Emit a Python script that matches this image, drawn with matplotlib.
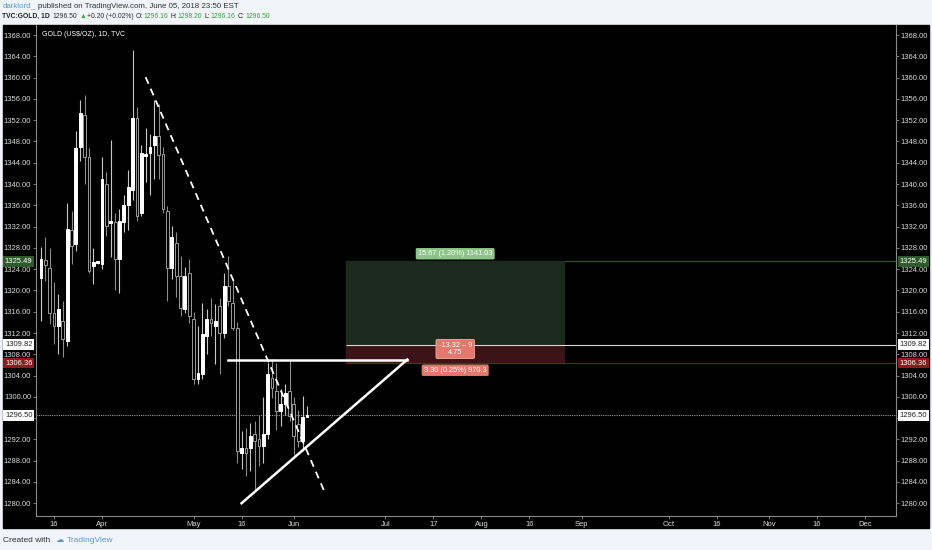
import matplotlib
matplotlib.use("Agg")
import matplotlib.pyplot as plt
import matplotlib.transforms as mtransforms
from matplotlib.patches import Rectangle
import numpy as np

plt.rcParams["font.family"] = ["Liberation Sans", "DejaVu Sans"]

# daily candles, first bar = 2018-03-13 (weekday bars)
start = "2018-03-13"
opens = [1322.4, 1325.8, 1324.3, 1315.8, 1313.4, 1314.3, 1310.5, 1331.3, 1328.8, 1346.9,
         1352.9, 1345.0, 1324.6, 1325.2, 1325.0, 1340.1, 1332.6, 1332.8, 1326.0, 1332.8,
         1336.0, 1338.8, 1352.5, 1334.5, 1345.2, 1345.8, 1347.3, 1349.0, 1345.6, 1335.0,
         1324.3, 1329.0, 1322.8, 1316.5, 1323.2, 1314.7, 1303.4, 1304.3, 1311.5, 1314.7,
         1313.4, 1317.1, 1312.0, 1320.9, 1317.7, 1313.0, 1289.4, 1290.4, 1290.4, 1293.0,
         1292.0, 1290.7, 1293.0, 1303.6, 1301.1, 1297.3, 1298.7, 1301.1, 1298.7, 1294.9,
         1291.7, 1296.16]
highs = [1328.1, 1330.0, 1327.9, 1321.5, 1319.4, 1318.0, 1336.5, 1335.0, 1350.0, 1355.8,
         1356.7, 1346.7, 1328.0, 1325.6, 1345.0, 1342.2, 1348.2, 1334.6, 1335.4, 1338.0,
         1342.6, 1365.2, 1354.5, 1347.3, 1350.5, 1349.5, 1355.8, 1355.0, 1347.0, 1335.9,
         1332.2, 1331.0, 1326.5, 1324.5, 1326.0, 1316.0, 1313.4, 1317.7, 1316.6, 1318.6,
         1317.5, 1318.6, 1323.2, 1326.5, 1322.2, 1314.0, 1293.6, 1294.1, 1295.0, 1295.5,
         1296.5, 1300.0, 1306.4, 1307.1, 1306.3, 1301.5, 1302.5, 1306.8, 1300.0, 1297.5,
         1300.2, 1298.20]
lows = [1314.3, 1321.8, 1313.7, 1310.0, 1308.1, 1307.5, 1309.6, 1325.0, 1327.5, 1344.4,
        1340.1, 1323.3, 1321.2, 1324.9, 1324.0, 1330.3, 1326.2, 1320.0, 1319.6, 1331.0,
        1331.3, 1337.0, 1333.0, 1334.0, 1340.3, 1337.9, 1341.0, 1341.0, 1334.5, 1318.0,
        1322.2, 1318.7, 1315.2, 1315.8, 1313.9, 1302.4, 1302.4, 1303.4, 1308.1, 1311.5,
        1306.2, 1304.3, 1311.0, 1317.0, 1312.5, 1287.5, 1286.4, 1285.1, 1286.0, 1282.5,
        1287.0, 1287.5, 1292.0, 1299.8, 1293.7, 1294.5, 1296.5, 1295.5, 1289.0, 1290.5,
        1289.8, 1296.16]
closes = [1326.0, 1324.7, 1315.8, 1313.4, 1316.5, 1310.9, 1331.6, 1328.4, 1346.7, 1353.3,
          1345.0, 1323.7, 1325.4, 1325.3, 1341.0, 1332.2, 1333.0, 1326.0, 1333.1, 1336.0,
          1339.4, 1352.5, 1334.0, 1345.8, 1345.6, 1346.9, 1349.0, 1345.4, 1335.4, 1324.3,
          1330.0, 1322.8, 1316.7, 1322.8, 1315.2, 1303.4, 1304.5, 1311.8, 1314.7, 1313.9,
          1314.3, 1312.0, 1320.9, 1318.0, 1313.0, 1289.8, 1290.4, 1289.5, 1292.6, 1291.7,
          1290.7, 1293.0, 1304.3, 1301.7, 1297.3, 1298.7, 1300.7, 1296.4, 1292.6, 1291.7,
          1296.3, 1296.50]

tick_dates = ["2018-03-16", "2018-04-02", "2018-05-01", "2018-05-16", "2018-06-01",
              "2018-07-02", "2018-07-17", "2018-08-01", "2018-08-16", "2018-09-03",
              "2018-10-01", "2018-10-16", "2018-11-01", "2018-11-16", "2018-12-03"]
tick_labels = ["16", "Apr", "May", "16", "Jun", "Jul", "17", "Aug", "16", "Sep",
               "Oct", "16", "Nov", "16", "Dec"]

# drawing tools
last_price = 1296.50
target = 1325.49
entry = 1309.82
stop = 1306.36
box_dates = ["2018-06-19", "2018-08-28"]
dash_line = (["2018-04-16", "2018-06-12"], [1360.1, 1282.2])
flat_line = (["2018-05-11", "2018-07-09"], [1307.0, 1307.0])
rise_line = (["2018-05-16", "2018-07-09"], [1280.0, 1307.0])

def bar_x(d):
    return float(np.busday_count(start, d))

W, H = 932, 550
fig = plt.figure(figsize=(W / 100, H / 100), dpi=100, facecolor="#f1f4f9")
fig.patches.append(Rectangle((3 / W, 1 - 528 / H), 926 / W, 503 / H,
                             transform=fig.transFigure, color="black", zorder=-10))
ax = fig.add_axes([36 / W, 1 - 516 / H, 860 / W, 491 / H])
ax.set_facecolor("black")

x = np.arange(len(opens))
for i in x:
    o, h, l, c = opens[i], highs[i], lows[i], closes[i]
    up = c >= o
    ax.vlines(i, l, h, color="#c8c8c8" if up else "#8c8c8c", lw=0.8, zorder=3)
    bot, top = min(o, c), max(o, c)
    hgt = max(top - bot, 0.25)
    ax.add_patch(Rectangle((i - 0.32, bot), 0.64, hgt,
                           facecolor="white" if up else "black",
                           edgecolor="white" if up else "#9a9a9a", lw=0.7, zorder=4))

xr = (36 - 41) / 4.36
xl = (896 - 41) / 4.36
ax.set_xlim(xr, xl)
ax.set_ylim(1277.6, 1369.9)

# long position tool
bx0, bx1 = bar_x(box_dates[0]), bar_x(box_dates[1])
ax.add_patch(Rectangle((bx0, entry), bx1 - bx0, target - entry, color="#1b2a1d", zorder=1))
ax.add_patch(Rectangle((bx0, stop), bx1 - bx0, entry - stop, color="#3a1416", zorder=1))
ax.hlines(target, bx1, xl, color="#2f5a2c", lw=0.8, zorder=2)
ax.hlines(entry, bx0, xl, color="#d8d8d8", lw=0.8, zorder=2)
ax.hlines(stop, bx0, xl, color="#7a1f1f", lw=0.8, zorder=2)
ax.axhline(last_price, color="#9a9a9a", ls=(0, (1, 1)), lw=0.8, zorder=2)

mid = (bx0 + bx1) / 2
ax.text(mid, 1326.9, "15.67 (1.20%) 1141.03", color="white", fontsize=5.3, ha="center", va="center",
        bbox=dict(boxstyle="round,pad=0.3,rounding_size=0.2", fc="#8dc489", ec="none"), zorder=6)
ax.text(mid, 1309.0, "-13.32 – 9\n4.75", color="white", fontsize=5.3, ha="center", va="center",
        linespacing=1.0,
        bbox=dict(boxstyle="round,pad=0.35,rounding_size=0.2", fc="#e4786d", ec="#f2b0a8", lw=0.6), zorder=6)
ax.text(mid, 1305.0, "3.30 (0.25%) 970.3", color="white", fontsize=5.3, ha="center", va="center",
        bbox=dict(boxstyle="round,pad=0.3,rounding_size=0.2", fc="#e4786d", ec="none"), zorder=6)

# trend lines
for pts, style, lw in [(dash_line, (0, (4, 3)), 1.3), (flat_line, "-", 1.8), (rise_line, "-", 1.8)]:
    ax.plot([bar_x(d) for d in pts[0]], pts[1], color="white", ls=style, lw=lw, zorder=5)

# axes styling
ax.spines["top"].set_visible(False)
for s in ["left", "right", "bottom"]:
    ax.spines[s].set_color("#8a8a8a")
    ax.spines[s].set_linewidth(0.8)
yt = np.arange(1280, 1369, 4)
ax.set_yticks(yt)
# 1296.00 sits under the last-price box
ax.set_yticklabels(["" if v == 1296 else f"{v:.2f}" for v in yt])
ax.tick_params(axis="y", left=True, right=True, labelleft=True, labelright=True,
               direction="out", length=2, width=0.6, color="#8a8a8a",
               labelsize=5.5, labelcolor="#d8d8d8", pad=1.5)
ax.set_xticks([bar_x(d) for d in tick_dates])
ax.set_xticklabels(tick_labels)
ax.tick_params(axis="x", direction="out", length=2, width=0.6, color="#8a8a8a",
               labelsize=5.5, labelcolor="#d8d8d8", pad=1.5)

# price labels on both axes
tr = mtransforms.blended_transform_factory(ax.transAxes, ax.transData)
for val, fc, tc in [(target, "#2f5a2c", "white"), (entry, "white", "#222222"),
                    (stop, "#8b1a1a", "white"), (last_price, "white", "#222222")]:
    for xa, ha in [(-0.004, "right"), (1.004, "left")]:
        ax.text(xa, val, f"{val:.2f}", transform=tr, fontsize=5.5, color=tc, ha=ha, va="center",
                bbox=dict(boxstyle="square,pad=0.25", fc=fc, ec="none"), zorder=7, clip_on=False)

ax.text(6 / 860, 1 - 10 / 491, "GOLD (US$/OZ), 1D, TVC", transform=ax.transAxes,
        color="white", fontsize=5.0, ha="left", va="center")

# header, pieces laid out one after another
renderer = fig.canvas.get_renderer()

def chain(px, py, parts, size):
    for s, col, wt, gap in parts:
        t = fig.text(px / W, 1 - py / H, s, va="center", ha="left", color=col,
                     fontsize=size, fontweight=wt)
        px += t.get_window_extent(renderer).width + gap

g = "#3aa53a"
k = "#333333"
chain(3, 6, [("darklord_", "#5b9bd5", "normal", 2),
             ("published on TradingView.com, June 05, 2018 23:50 EST", k, "normal", 0)], 5.7)
chain(2, 16, [("TVC:GOLD, 1D", "#222222", "bold", 3), ("1296.50", k, "normal", 2),
              ("▲", g, "normal", 1), ("+0.20 (+0.02%)", k, "normal", 2),
              ("O:", "#222222", "normal", 0.5), ("1296.16", g, "normal", 2.5),
              ("H:", "#222222", "normal", 0.5), ("1298.20", g, "normal", 2.5),
              ("L:", "#222222", "normal", 0.5), ("1296.16", g, "normal", 2.5),
              ("C:", "#222222", "normal", 0.5), ("1296.50", g, "normal", 0)], 4.9)

# footer
chain(3, 540, [("Created with", k, "normal", 5), ("☁", "#5b9bd5", "normal", 3),
               ("TradingView", "#5b9bd5", "normal", 0)], 6.0)

fig.savefig("out.png", dpi=100, facecolor=fig.get_facecolor())
